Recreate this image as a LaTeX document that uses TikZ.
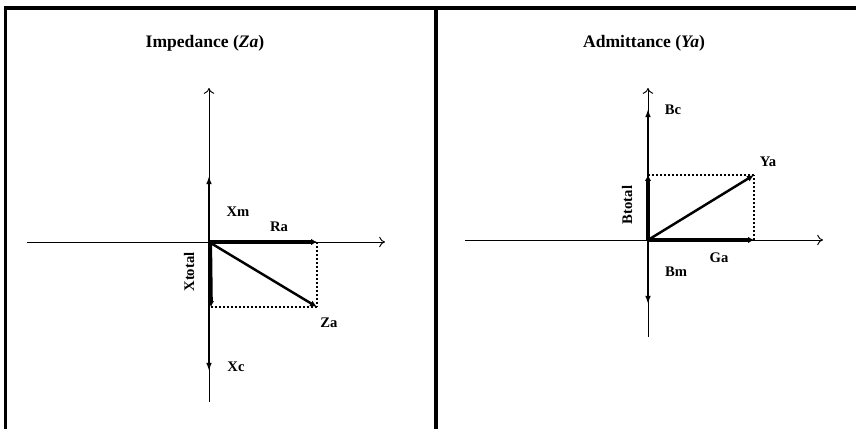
\documentclass[tikz,border=0pt]{standalone}
\usepackage{fontspec}
\setmainfont{Liberation Serif}
\usetikzlibrary{arrows.meta}

\tikzset{
  axis/.style={line width=0.8pt, -{To[length=5pt,width=9pt]}},
  comp/.style={line width=1.8pt, -{Latex[length=7pt,width=5pt]}},
  total/.style={line width=3.2pt, -{Latex[length=5pt,width=5.5pt]}},
  result/.style={line width=2.1pt, -{Latex[length=6pt,width=5.5pt]}},
  proj/.style={line width=1.9pt, dash pattern=on 1.7pt off 1.7pt},
  lbl/.style={font=\fontsize{12.5}{14}\selectfont\bfseries, inner sep=0pt},
  ttl/.style={font=\fontsize{15}{17}\selectfont\bfseries, inner sep=0pt}
}

\begin{document}
\begin{tikzpicture}[x=0.03cm, y=-0.03cm]
    \useasboundingbox (0,0) rectangle (856,429);
    % Rahmen:
    \draw[line width=3pt] (5.5,429) -- (5.5,8) -- (856,8); % links und oben
    \draw[line width=3pt] (436,8) -- (436,429); % Trennlinie

    % Impedanz (linke Seite):
    \node[ttl] (imptitle) at (205,43) {Impedance (\textit{Za})};
    \coordinate (zo) at (209,242);
    \coordinate (zaxl) at (27,242);
    \coordinate (zaxr) at (385,242);
    \coordinate (zaxt) at (209,88);
    \coordinate (zaxb) at (209,402);
    \coordinate (xm) at (209,176);
    \coordinate (xc) at (209,371);
    \coordinate (ra) at (317,242);
    \coordinate (xt) at (211,307);
    \coordinate (za) at (317,307);
    \draw[axis] (zaxl) -- (zaxr); % reelle Achse
    \draw[axis] (zaxb) -- (zaxt); % imaginaere Achse
    \draw[comp] (zo) -- (xm);
    \draw[comp] (zo) -- (xc);
    \draw[proj] (ra) -- (za);
    \draw[proj] (xt) -- (za);
    \draw[total] (zo) -- (ra);
    \draw[total] ([xshift=1pt]zo) -- (xt);
    \draw[result] (zo) -- (za);
    \node[lbl] (xmlbl) at (238,212) {Xm};
    \node[lbl] (ralbl) at (279,227) {Ra};
    \node[lbl, rotate=90] (xtlbl) at (189,272) {Xtotal};
    \node[lbl] (zalbl) at (329,323) {Za};
    \node[lbl] (xclbl) at (236,367) {Xc};

    % Admittanz (rechte Seite):
    \node[ttl] (admtitle) at (644,43) {Admittance (\textit{Ya})};
    \coordinate (yo) at (648,240);
    \coordinate (yaxl) at (465,240);
    \coordinate (yaxr) at (823,240);
    \coordinate (yaxt) at (648,88);
    \coordinate (yaxb) at (648,337);
    \coordinate (bc) at (648,109);
    \coordinate (bm) at (648,304);
    \coordinate (ga) at (754,240);
    \coordinate (bt) at (648,175);
    \coordinate (ya) at (754,175);
    \draw[axis] (yaxl) -- (yaxr); % reelle Achse
    \draw[axis] (yaxb) -- (yaxt); % imaginaere Achse
    \draw[comp] (yo) -- (bc);
    \draw[comp] (yo) -- (bm);
    \draw[proj] (bt) -- (ya);
    \draw[proj] (ga) -- (ya);
    \draw[total] (yo) -- (ga);
    \draw[total] (yo) -- (bt);
    \draw[result] (yo) -- (ya);
    \node[lbl] (bclbl) at (673,110) {Bc};
    \node[lbl] (yalbl) at (768,162) {Ya};
    \node[lbl, rotate=90] (btlbl) at (627,205) {Btotal};
    \node[lbl] (galbl) at (719,258) {Ga};
    \node[lbl] (bmlbl) at (676,272) {Bm};
\end{tikzpicture}
\end{document}
